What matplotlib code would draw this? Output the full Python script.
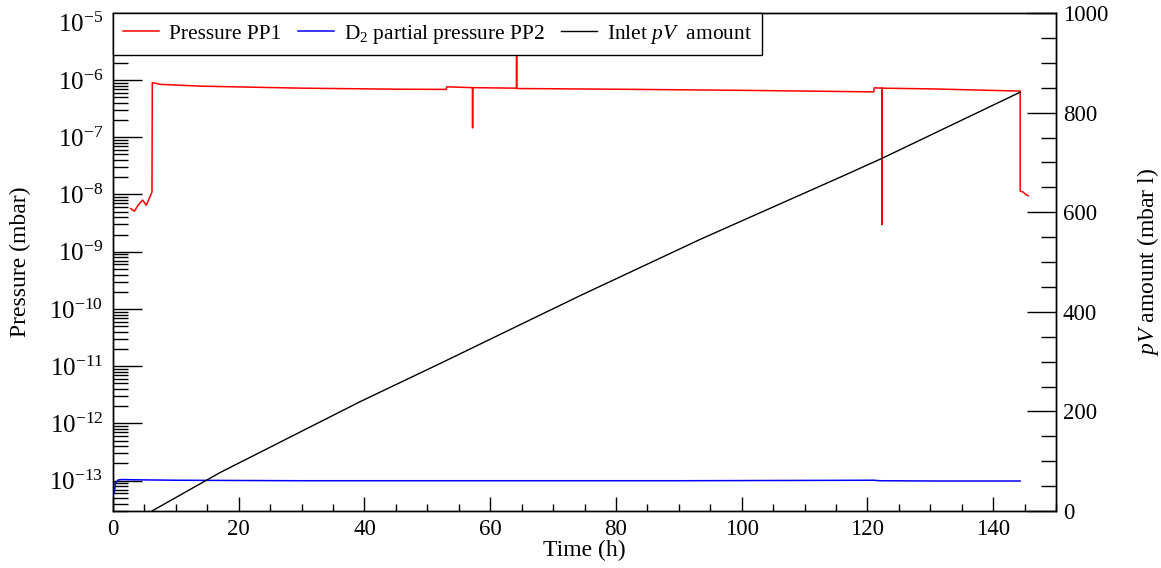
import numpy as np
import matplotlib
matplotlib.use("Agg")
import matplotlib.pyplot as plt
from matplotlib.ticker import MultipleLocator, LogLocator, LogFormatterMathtext, NullFormatter

plt.rcParams['font.family'] = ['Liberation Serif', 'DejaVu Serif']
plt.rcParams['mathtext.fontset'] = 'custom'
plt.rcParams['mathtext.rm'] = 'Liberation Serif'
plt.rcParams['mathtext.it'] = 'Liberation Serif:italic'
plt.rcParams['mathtext.bf'] = 'Liberation Serif:bold'

# Pressure PP1 (mbar)
t_pp1 = [2.8, 3.4, 4.0, 4.7, 5.3, 6.2, 6.25, 7.5, 14, 30, 45.7, 53.0, 53.1,
         56.3, 57.2, 57.2, 57.2, 64.2, 64.2, 64.2, 80, 100, 121.0, 121.1,
         122.3, 122.3, 122.3, 130, 144.3, 144.3, 144.8, 145.2, 145.6]
pp1 = [5.7e-9, 5.1e-9, 6.5e-9, 8.0e-9, 6.5e-9, 1.1e-8, 9.0e-7, 8.4e-7, 7.8e-7,
       7.2e-7, 6.9e-7, 6.85e-7, 7.6e-7, 7.4e-7, 7.35e-7, 1.47e-7, 7.35e-7,
       7.2e-7, 1e-4, 7.1e-7, 6.9e-7, 6.6e-7, 6.2e-7, 7.3e-7, 7.2e-7, 3.0e-9,
       7.2e-7, 7.0e-7, 6.4e-7, 1.14e-8, 1.1e-8, 1.0e-8, 0.95e-8]

# D2 partial pressure PP2 (mbar)
t_pp2 = [0.2, 0.4, 0.8, 1.5, 3, 10, 30, 60, 90, 121, 122, 130, 144.3]
pp2 = [6.1e-14, 9.0e-14, 1.03e-13, 1.05e-13, 1.04e-13, 1.02e-13, 1.0e-13,
       1.0e-13, 1.0e-13, 1.02e-13, 1.0e-13, 0.99e-13, 0.99e-13]

# Inlet pV amount (mbar l)
t_pv = [6.2, 17, 39.3, 52.1, 74.4, 93.5, 115.8, 122.3, 144.3]
pv = [0, 77, 219.5, 296.6, 433, 546, 671, 708, 841]

fig = plt.figure(figsize=(11.61, 5.68), dpi=100)
ax = fig.add_axes([113 / 1161, 1 - 511 / 568, 943 / 1161, 498 / 568])
ax2 = ax.twinx()

l1, = ax.plot(t_pp1, pp1, color='#ff0000', lw=1.1, label='Pressure PP1')
l2, = ax.plot(t_pp2, pp2, color='#0000ff', lw=1.1, label='D$_2$ partial pressure PP2')
l3, = ax2.plot(t_pv, pv, color='black', lw=1.0, label='Inlet $pV$  amount')

ax.set_yscale('log')
ax.set_xlim(0, 150)
ax.set_ylim(2.96e-14, 1.48e-5)
ax2.set_ylim(0, 1000)

ax.xaxis.set_major_locator(MultipleLocator(20))
ax.xaxis.set_minor_locator(MultipleLocator(5))
ax.yaxis.set_major_locator(LogLocator(base=10, numticks=30))
ax.yaxis.set_minor_locator(LogLocator(base=10, subs=np.arange(2, 10), numticks=30))
ax.yaxis.set_major_formatter(LogFormatterMathtext())
ax.yaxis.set_minor_formatter(NullFormatter())
ax2.yaxis.set_major_locator(MultipleLocator(200))
ax2.yaxis.set_minor_locator(MultipleLocator(50))

ax.tick_params(axis='x', which='both', direction='in', top=False, labelsize=16.5, pad=6)
ax.tick_params(axis='x', which='major', length=10, width=1)
ax.tick_params(axis='x', which='minor', length=5, width=1)
ax.tick_params(axis='y', which='both', direction='in', right=False, labelsize=18, pad=7)
ax.tick_params(axis='y', which='major', length=21, width=1)
ax.tick_params(axis='y', which='minor', length=10.5, width=1)
ax2.tick_params(axis='y', which='both', direction='in', left=False, labelsize=16.5, pad=5)
ax2.tick_params(axis='y', which='major', length=21, width=1)
ax2.tick_params(axis='y', which='minor', length=10.5, width=1)

for a in (ax, ax2):
    for s in a.spines.values():
        s.set_linewidth(1)
        s.set_color('black')

ax.set_xlabel('Time (h)', fontsize=17)
ax.xaxis.set_label_coords(0.5, -0.058)
ax.set_ylabel('Pressure (mbar)', fontsize=17)
ax.yaxis.set_label_coords(-0.087, 0.5)
ax2.set_ylabel('$pV$ amount (mbar l)', fontsize=17)
ax2.yaxis.set_label_coords(1.084, 0.5)

leg = ax2.legend(handles=[l1, l2, l3], ncol=3, mode='expand', loc='upper left',
                 bbox_to_anchor=(0, 0, 649 / 943, 1), borderaxespad=0,
                 fontsize=15.4, handlelength=1.68, handletextpad=0.47,
                 borderpad=0.45, fancybox=False, framealpha=1, edgecolor='black')
leg.get_frame().set_linewidth(1)

fig.savefig('out.png', dpi=100)
